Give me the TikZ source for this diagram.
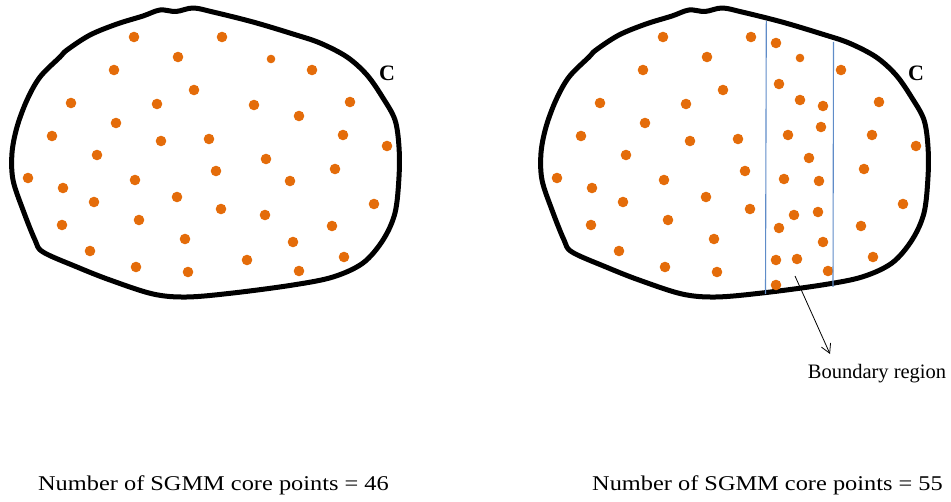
\documentclass[tikz,border=0pt]{standalone}
\usepackage{fontspec}
\setmainfont{Liberation Serif}
\usetikzlibrary{arrows.meta}
\definecolor{dotorange}{RGB}{228,108,10}
\definecolor{bandblue}{RGB}{95,140,200}
\begin{document}
\begin{tikzpicture}[x=1pt,y=-1pt,
  outline/.style={line width=5pt, line join=round},
  dotfill/.style={fill=dotorange},
  bandline/.style={draw=bandblue, line width=1.1pt},
  clabel/.style={font=\fontsize{22}{24}\selectfont\bfseries, inner sep=0pt, anchor=base},
  captext/.style={font=\fontsize{21}{24}\selectfont, inner sep=0pt, anchor=base},
  brtext/.style={font=\fontsize{20.5}{24}\selectfont, inner sep=0pt, anchor=base},
  pointer/.style={draw=black, line width=0.8pt, -{Straight Barb[length=9pt,width=10pt,line width=0.8pt]}}]
\useasboundingbox (0,0) rectangle (951,502);

% outlines
\foreach \s in {0,529}{
  \draw[outline, shift={(\s,0)}] plot[smooth cycle, tension=0.55] coordinates {
    (160,10) (176,11.5) (193,8) (213,12) (253,22) (293,34) (320,43) (347,57)
    (367,75) (383,98) (395,120) (399,147) (399,177) (395,213) (383,240)
    (363,263) (333,277) (293,285) (233,293) (187,297) (153,294) (110,280)
    (77,267) (43,252) (35,240) (23,210) (13,180) (12,153) (17,127) (27,100)
    (40,77) (60,57) (67,50) (90,35) (117,24) (143,16)};
}

% dots common to both panels
\foreach \s in {0,529}{
  \foreach \x/\y in {134/37,222/37,178/57,114/70,194/90,71/103,157/104,116/123,
      52/136,161/141,209/139,97/155,28/178,216/171,135/180,63/188,177/197,
      94/202,221/209,139/220,62/225,185/239,90/251,136/267,188/272,
      312/70,350/102,343/135,387/146,335/169,374/204,332/226,344/257}{
    \fill[dotfill] (\x+\s,\y) circle (5.3pt);
  }
}
% left panel middle dots
\foreach \x/\y in {254/105,299/116,266/159,290/181,265/215,293/242,247/260,299/271}{
  \fill[dotfill] (\x,\y) circle (5.3pt);
}
\fill[dotfill] (271,59) circle (4.3pt);
% right panel band dots
\foreach \x/\y in {776/43,779/84,800/100,823/106,821/127,788/135,809/158,784/179,
    819/181,794/215,818/212,779/228,823/242,776/260,797/259,828/271,776/285}{
  \fill[dotfill] (\x,\y) circle (5.3pt);
}
\fill[dotfill] (800,58) circle (4.3pt);

% band lines
\coordinate (b1t) at (766.3,21);
\coordinate (b1b) at (765.5,294);
\coordinate (b2t) at (833.5,42);
\coordinate (b2b) at (833,287);
\draw[bandline] (b1t) -- (b1b);
\draw[bandline] (b2t) -- (b2b);

% labels
\node[clabel] (cl) at (387,81) {C};
\node[clabel] (cr) at (916,81) {C};

\node[brtext] (br) at (877,379) {Boundary region};
\coordinate (arrstart) at (795,276);
\coordinate (arrend) at (830,354);
\draw[pointer] (arrstart) -- (arrend);

\node[captext] (capl) at (213.5,491) {\scalebox{1.16}[1]{Number of SGMM core points = 46}};
\node[captext] (capr) at (767.5,491) {\scalebox{1.16}[1]{Number of SGMM core points = 55}};
\end{tikzpicture}
\end{document}
